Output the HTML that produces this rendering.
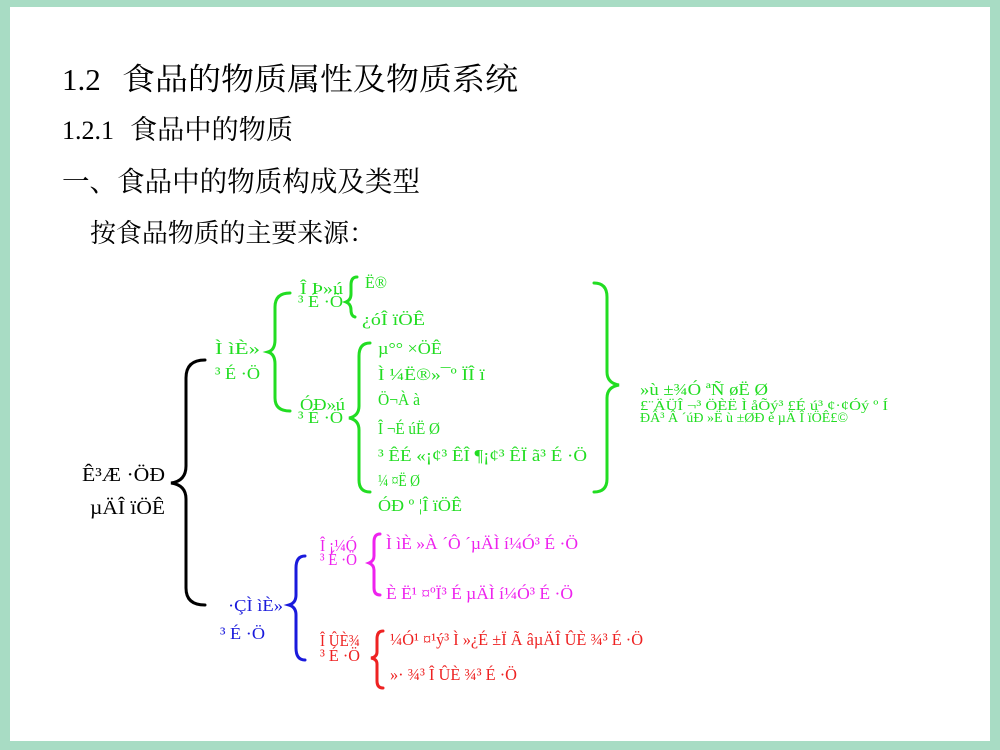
<!DOCTYPE html>
<html><head><meta charset="utf-8"><style>
html,body{margin:0;padding:0;}
body{width:1000px;height:750px;background:#a8dcc4;position:relative;overflow:hidden;}
#pg{position:absolute;left:10px;top:7px;width:980px;height:734px;background:#fff;}
svg{position:absolute;left:0;top:0;}
text{font-family:"Liberation Serif","Noto Serif CJK SC","Noto Sans CJK SC",serif;}
</style></head><body>
<div id="pg"></div>
<svg width="1000" height="750" viewBox="0 0 1000 750">
<g fill="#000">
<text x="62" y="90" font-size="31">1.2</text>
<text x="122" y="90" font-size="31" textLength="396" lengthAdjust="spacingAndGlyphs">食品的物质属性及物质系统</text>
<text x="62" y="139" font-size="26">1.2.1</text>
<text x="130" y="139" font-size="27" textLength="163" lengthAdjust="spacingAndGlyphs">食品中的物质</text>
<text x="62" y="191" font-size="28" textLength="358" lengthAdjust="spacingAndGlyphs">一、食品中的物质构成及类型</text>
<text x="90" y="242" font-size="26" textLength="285" lengthAdjust="spacingAndGlyphs">按食品物质的主要来源：</text>
</g>
<g fill="none" stroke-width="3" stroke-linecap="round">
<path stroke="#000" d="M205,360 Q186,360 186,378 L186,466 Q186,481 171,483 Q186,485 186,499 L186,588 Q186,605 205,605"/>
<path stroke="#22dd22" d="M290,293 Q275,293 275,307 L275,340 Q275,350 268,352 Q275,354 275,364 L275,398 Q275,411 290,411"/>
<path stroke="#22dd22" d="M357,277 Q351,277 351,285 L351,294 Q351,300 346,302 Q351,304 351,310 L351,310 Q351,316 355,317"/>
<path stroke="#22dd22" d="M370,343 Q359,343 359,356 L359,406 Q359,416 349,418 Q359,420 359,430 L359,480 Q359,492 370,492"/>
<path stroke="#22dd22" d="M594,283 Q607,283 607,297 L607,372 Q607,383 619,385 Q607,387 607,398 L607,479 Q607,492 594,492"/>
<path stroke="#1a1adc" d="M305,556 Q296,556 296,568 L296,595 Q296,603 289,605 Q296,607 296,615 L296,648 Q296,660 305,660"/>
<path stroke="#ee22ee" d="M380,534 Q374,534 374,542 L374,556 Q374,561 369,563 Q374,565 374,570 L374,588 Q374,595 380,595"/>
<path stroke="#ee2222" d="M383,631 Q377,631 377,639 L377,652 Q377,657 371,658 Q377,659 377,664 L377,681 Q377,688 383,688"/>
</g>
<g font-size="20" fill="#000">
<text x="82" y="481" textLength="83" lengthAdjust="spacingAndGlyphs">Ê³Æ ·ÖÐ</text>
<text x="90" y="514" textLength="75" lengthAdjust="spacingAndGlyphs">µÄÎ ïÖÊ</text>
</g>
<g font-size="17" fill="#22dd22">
<text x="215" y="354" textLength="45" lengthAdjust="spacingAndGlyphs">Ì ìÈ»</text>
<text x="215" y="379" textLength="45" lengthAdjust="spacingAndGlyphs">³ É ·Ö</text>
<text x="300" y="294" textLength="43" lengthAdjust="spacingAndGlyphs">Î Þ»ú</text>
<text x="298" y="307" textLength="45" lengthAdjust="spacingAndGlyphs">³ É ·Ö</text>
<text x="365" y="288" textLength="22" lengthAdjust="spacingAndGlyphs">Ë®</text>
<text x="362" y="325" textLength="63" lengthAdjust="spacingAndGlyphs">¿óÎ ïÖÊ</text>
<text x="300" y="410" textLength="45" lengthAdjust="spacingAndGlyphs">ÓÐ»ú</text>
<text x="298" y="423" textLength="45" lengthAdjust="spacingAndGlyphs">³ É ·Ö</text>
<text x="378" y="354" textLength="64" lengthAdjust="spacingAndGlyphs">µ°° ×ÖÊ</text>
<text x="378" y="380" textLength="107" lengthAdjust="spacingAndGlyphs">Ì ¼Ë®»¯º ÏÎ ï</text>
<text x="378" y="405" textLength="42" lengthAdjust="spacingAndGlyphs">Ö¬À à</text>
<text x="378" y="434" textLength="62" lengthAdjust="spacingAndGlyphs">Î ¬É úË Ø</text>
<text x="378" y="461" textLength="209" lengthAdjust="spacingAndGlyphs">³ ÊÉ «¡¢³ ÊÎ ¶¡¢³ ÊÏ ã³ É ·Ö</text>
<text x="378" y="486" textLength="42" lengthAdjust="spacingAndGlyphs">¼ ¤Ë Ø</text>
<text x="378" y="511" textLength="84" lengthAdjust="spacingAndGlyphs">ÓÐ º ¦Î ïÖÊ</text>
<text x="640" y="395" textLength="128" lengthAdjust="spacingAndGlyphs">»ù ±¾Ó ªÑ øË Ø</text>
<text x="640" y="410" font-size="14" textLength="248" lengthAdjust="spacingAndGlyphs">£¨ÄÜÎ ¬³ ÖÈË Ì åÕý³ £É ú³ ¢·¢Óý º Í</text>
<text x="640" y="422" font-size="14" textLength="208" lengthAdjust="spacingAndGlyphs">ÐÂ³ Â ´úÐ »Ë ù ±ØÐ è µÄ Î ïÖÊ£©</text>
</g>
<g font-size="17" fill="#1a1adc">
<text x="228" y="611" textLength="55" lengthAdjust="spacingAndGlyphs">·ÇÌ ìÈ»</text>
<text x="220" y="639" textLength="45" lengthAdjust="spacingAndGlyphs">³ É ·Ö</text>
</g>
<g font-size="17" fill="#ee22ee">
<text x="320" y="551" textLength="37" lengthAdjust="spacingAndGlyphs">Î ¡¼Ó</text>
<text x="320" y="565" textLength="37" lengthAdjust="spacingAndGlyphs">³ É ·Ö</text>
<text x="386" y="549" textLength="192" lengthAdjust="spacingAndGlyphs">Ì ìÈ »À ´Ô ´µÄÌ í¼Ó³ É ·Ö</text>
<text x="386" y="599" textLength="187" lengthAdjust="spacingAndGlyphs">È Ë¹ ¤ºÏ³ É µÄÌ í¼Ó³ É ·Ö</text>
</g>
<g font-size="17" fill="#ee2222">
<text x="320" y="646" textLength="40" lengthAdjust="spacingAndGlyphs">Î ÛÈ¾</text>
<text x="320" y="661" textLength="40" lengthAdjust="spacingAndGlyphs">³ É ·Ö</text>
<text x="390" y="645" textLength="253" lengthAdjust="spacingAndGlyphs">¼Ó¹ ¤¹ý³ Ì »¿É ±Ï Ã âµÄÎ ÛÈ ¾³ É ·Ö</text>
<text x="390" y="680" textLength="127" lengthAdjust="spacingAndGlyphs">»· ¾³ Î ÛÈ ¾³ É ·Ö</text>
</g>
</svg>
</body></html>
